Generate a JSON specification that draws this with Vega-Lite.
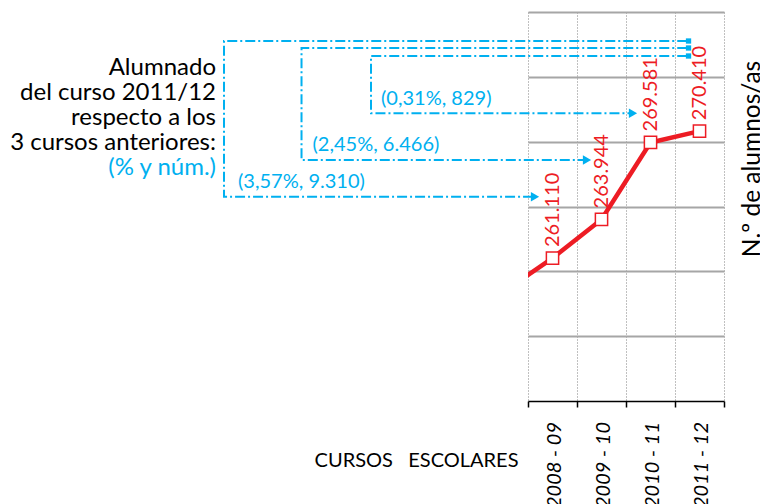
{
  "$schema": "https://vega.github.io/schema/vega-lite/v6.json",
  "width": 196,
  "height": 389,
  "autosize": {"type": "none"},
  "padding": {"left": 528, "top": 12, "right": 36, "bottom": 103},
  "config": {
    "locale": {"number": {"decimal": ",", "thousands": ".", "grouping": [3], "currency": ["", " €"]}},
    "view": {"stroke": null},
    "font": "Lato"
  },
  "datasets": {
    "alumnado": [
      {"curso": "2007 - 08", "inicio": 2007, "alumnos": 258632},
      {"curso": "2008 - 09", "inicio": 2008, "alumnos": 261110},
      {"curso": "2009 - 10", "inicio": 2009, "alumnos": 263944},
      {"curso": "2010 - 11", "inicio": 2010, "alumnos": 269581},
      {"curso": "2011 - 12", "inicio": 2011, "alumnos": 270410}
    ],
    "corchetes": [
      {"grupo": "3 cursos", "orden": 1, "anio": 2010.75, "n": 277015},
      {"grupo": "3 cursos", "orden": 2, "anio": 2001.296, "n": 277015},
      {"grupo": "3 cursos", "orden": 3, "anio": 2001.296, "n": 265608},
      {"grupo": "3 cursos", "orden": 4, "anio": 2007.582, "n": 265608},
      {"grupo": "2 cursos", "orden": 1, "anio": 2010.75, "n": 276503},
      {"grupo": "2 cursos", "orden": 2, "anio": 2002.878, "n": 276503},
      {"grupo": "2 cursos", "orden": 3, "anio": 2002.878, "n": 268297},
      {"grupo": "2 cursos", "orden": 4, "anio": 2008.643, "n": 268297},
      {"grupo": "1 curso", "orden": 1, "anio": 2010.75, "n": 275916},
      {"grupo": "1 curso", "orden": 2, "anio": 2004.296, "n": 275916},
      {"grupo": "1 curso", "orden": 3, "anio": 2004.296, "n": 271718},
      {"grupo": "1 curso", "orden": 4, "anio": 2009.582, "n": 271718}
    ],
    "puntas": [
      {"grupo": "3 cursos", "anio": 2007.643, "n": 265608},
      {"grupo": "2 cursos", "anio": 2008.704, "n": 268297},
      {"grupo": "1 curso", "anio": 2009.643, "n": 271718}
    ],
    "topes": [
      {"grupo": "3 cursos", "anio": 2010.776, "n": 277015},
      {"grupo": "2 cursos", "anio": 2010.776, "n": 276503},
      {"grupo": "1 curso", "anio": 2010.776, "n": 275916}
    ],
    "variaciones": [
      {"grupo": "3 cursos", "texto": "(3,57%, 9.310)", "anio": 2001.582, "n": 266685},
      {"grupo": "2 cursos", "texto": "(2,45%, 6.466)", "anio": 2003.102, "n": 269396},
      {"grupo": "1 curso", "texto": "(0,31%, 829)", "anio": 2004.5, "n": 272766}
    ],
    "leyenda": [
      {"linea": 1, "texto": "Alumnado", "anio": 2001.133, "n": 274524, "resaltar": false},
      {"linea": 2, "texto": "del curso 2011/12", "anio": 2001.133, "n": 272693, "resaltar": false},
      {"linea": 3, "texto": "respecto a los", "anio": 2001.133, "n": 270861, "resaltar": false},
      {"linea": 4, "texto": "3 cursos anteriores:", "anio": 2001.133, "n": 269030, "resaltar": false},
      {"linea": 5, "texto": "(% y núm.)", "anio": 2001.133, "n": 267198, "resaltar": true}
    ]
  },
  "layer": [
    {
      "data": {"name": "alumnado"},
      "mark": {"type": "line", "color": "#ED1C24", "strokeWidth": 4.5, "clip": true},
      "encoding": {
        "x": {
          "field": "inicio", "type": "quantitative", "title": "CURSOS\u00a0\u00a0\u00a0ESCOLARES",
          "scale": {"domain": [2007.5, 2011.5], "zero": false, "nice": false},
          "axis": {
            "values": [2007.5, 2008.5, 2009.5, 2010.5, 2011.5],
            "labels": false,
            "domainColor": "#000000", "domainWidth": 1.5,
            "tickColor": "#000000", "tickWidth": 1.5, "tickSize": 6,
            "grid": true, "gridColor": "#808080", "gridWidth": 1, "gridDash": [1, 2],
            "titleFont": "Lato", "titleFontSize": 20, "titleFontWeight": "normal", "titleColor": "#000000",
            "titleX": -10, "titleY": 59, "titleAlign": "right", "titleBaseline": "middle", "titleAngle": 0
          }
        },
        "y": {
          "field": "alumnos", "type": "quantitative", "title": "N.º de alumnos/as",
          "scale": {"domain": [250640, 279140], "zero": false, "nice": false},
          "axis": {
            "orient": "right",
            "values": [255390, 260140, 264890, 269640, 274390, 279140],
            "labels": false, "ticks": false, "domain": false,
            "grid": true, "gridColor": "#A6A6A6", "gridWidth": 2,
            "titleFont": "Lato", "titleFontSize": 24.5, "titleFontWeight": "normal", "titleColor": "#000000",
            "titleAngle": 270, "titleX": 28, "titleY": 146.5, "titleAlign": "center", "titleBaseline": "middle"
          }
        }
      }
    },
    {
      "data": {"name": "alumnado"},
      "transform": [{"filter": "datum.inicio >= 2008"}],
      "mark": {"type": "text", "angle": 270, "align": "right", "baseline": "middle", "dy": 2, "font": "Lato", "fontSize": 20, "fontStyle": "italic", "color": "#000000"},
      "encoding": {
        "x": {"field": "inicio", "type": "quantitative", "title": "CURSOS\u00a0\u00a0\u00a0ESCOLARES"},
        "y": {"datum": 249101, "type": "quantitative"},
        "text": {"field": "curso"}
      }
    },
    {
      "data": {"name": "alumnado"},
      "transform": [{"filter": "datum.inicio >= 2008"}],
      "mark": {"type": "point", "shape": "square", "size": 150, "filled": true, "fill": "#FFFFFF", "stroke": "#ED1C24", "strokeWidth": 1.5, "opacity": 1},
      "encoding": {
        "x": {"field": "inicio", "type": "quantitative", "title": "CURSOS\u00a0\u00a0\u00a0ESCOLARES"},
        "y": {"field": "alumnos", "type": "quantitative", "title": "N.º de alumnos/as"}
      }
    },
    {
      "data": {"name": "alumnado"},
      "transform": [{"filter": "datum.inicio >= 2008"}],
      "mark": {"type": "text", "angle": 270, "align": "left", "baseline": "middle", "dx": 11, "font": "Lato", "fontSize": 20, "color": "#ED1C24"},
      "encoding": {
        "x": {"field": "inicio", "type": "quantitative", "title": "CURSOS\u00a0\u00a0\u00a0ESCOLARES"},
        "y": {"field": "alumnos", "type": "quantitative", "title": "N.º de alumnos/as"},
        "text": {"field": "alumnos", "type": "quantitative", "format": ","}
      }
    },
    {
      "data": {"name": "corchetes"},
      "mark": {"type": "line", "color": "#00B0F0", "strokeWidth": 2, "strokeDash": [10, 3, 2, 3]},
      "encoding": {
        "x": {"field": "anio", "type": "quantitative", "title": "CURSOS\u00a0\u00a0\u00a0ESCOLARES"},
        "y": {"field": "n", "type": "quantitative", "title": "N.º de alumnos/as"},
        "detail": {"field": "grupo"},
        "order": {"field": "orden"}
      }
    },
    {
      "data": {"name": "puntas"},
      "mark": {"type": "point", "shape": "triangle-right", "size": 90, "filled": true, "color": "#00B0F0", "opacity": 1},
      "encoding": {
        "x": {"field": "anio", "type": "quantitative", "title": "CURSOS\u00a0\u00a0\u00a0ESCOLARES"},
        "y": {"field": "n", "type": "quantitative", "title": "N.º de alumnos/as"}
      }
    },
    {
      "data": {"name": "topes"},
      "mark": {"type": "point", "shape": "square", "size": 28, "filled": true, "color": "#00B0F0", "opacity": 1},
      "encoding": {
        "x": {"field": "anio", "type": "quantitative", "title": "CURSOS\u00a0\u00a0\u00a0ESCOLARES"},
        "y": {"field": "n", "type": "quantitative", "title": "N.º de alumnos/as"}
      }
    },
    {
      "data": {"name": "variaciones"},
      "mark": {"type": "text", "align": "left", "baseline": "middle", "font": "Lato", "fontSize": 20, "color": "#00B0F0"},
      "encoding": {
        "x": {"field": "anio", "type": "quantitative", "title": "CURSOS\u00a0\u00a0\u00a0ESCOLARES"},
        "y": {"field": "n", "type": "quantitative", "title": "N.º de alumnos/as"},
        "text": {"field": "texto"}
      }
    },
    {
      "data": {"name": "leyenda"},
      "mark": {"type": "text", "align": "right", "baseline": "alphabetic", "font": "Lato", "fontSize": 24},
      "encoding": {
        "x": {"field": "anio", "type": "quantitative", "title": "CURSOS\u00a0\u00a0\u00a0ESCOLARES"},
        "y": {"field": "n", "type": "quantitative", "title": "N.º de alumnos/as"},
        "text": {"field": "texto"},
        "color": {"field": "resaltar", "type": "nominal", "scale": {"domain": [false, true], "range": ["#000000", "#00B0F0"]}, "legend": null}
      }
    }
  ]
}
